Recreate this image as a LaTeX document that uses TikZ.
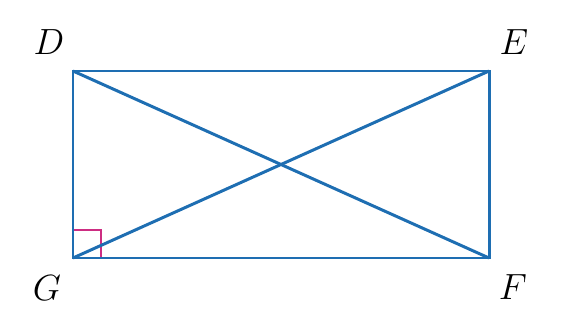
\documentclass[tikz,border=0pt]{standalone}
\usepackage{amsmath,amssymb}
\usepackage{xcolor}
\usepackage{tikz}
\usetikzlibrary{calc}
\definecolor{edgeblue}{RGB}{30,110,178}
\definecolor{markpink}{RGB}{205,45,130}

\begin{document}
\begin{tikzpicture}[
    x=0.02cm, y=-0.02cm,
    side/.style={draw=edgeblue, line width=1.7pt, line join=miter},
    vlbl/.style={font=\fontsize{21}{24}\selectfont, inner sep=0pt},
    rmark/.style={draw=markpink, line width=1pt},
]
\useasboundingbox (0,0) rectangle (561,320);
\coordinate (D) at (73,71);
\coordinate (E) at (489,71);
\coordinate (F) at (489,258);
\coordinate (G) at (73,258);

% right angle at G
\draw[rmark] ($(G)+(0,-28)$) -- ($(G)+(28,-28)$) -- ($(G)+(28,0)$);

\draw[side] (D) -- (E) -- (F) -- (G) -- cycle;
\draw[side] (D) -- (F);
\draw[side] (G) -- (E);

\node[vlbl] (lD) at (49,42) {$D$};
\node[vlbl] (lE) at (514,42) {$E$};
\node[vlbl] (lG) at (47,288) {$G$};
\node[vlbl] (lF) at (513,287) {$F$};
\end{tikzpicture}
\end{document}
